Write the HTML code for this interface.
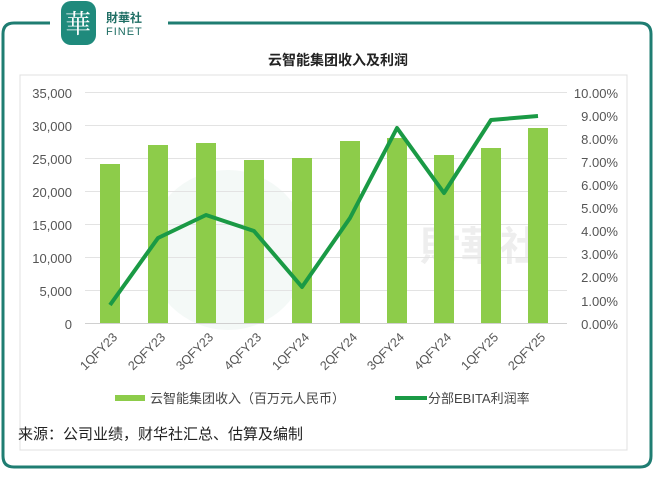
<!DOCTYPE html>
<html><head><meta charset="utf-8"><style>
body{margin:0;width:654px;height:490px;background:#fff;overflow:hidden;font-family:"Liberation Sans","Noto Sans CJK SC",sans-serif;}
</style></head><body>
<svg width="654" height="490" xmlns="http://www.w3.org/2000/svg" style="position:absolute;left:0;top:0">
<path d="M50 23 H14 Q3 23 3 34 V456 Q3 467 14 467 H640 Q651 467 651 456 V34 Q651 23 640 23 H168" fill="none" stroke="#1f7d72" stroke-width="3"/>
<rect x="61" y="1" width="35" height="44" rx="10" fill="#1f8a7c"/>
<text x="78" y="33" font-size="26" fill="#fff" text-anchor="middle" font-family="Noto Serif CJK SC,serif">華</text>
<text x="106" y="22" font-size="12" font-weight="bold" fill="#1f6e64">財華社</text>
<text x="106" y="35" font-size="11" fill="#1f6e64" letter-spacing="1">FINET</text>
<rect x="20" y="75" width="607" height="375" fill="none" stroke="#e0e0e0"/>
<text x="338" y="65" font-size="14" font-weight="bold" text-anchor="middle" fill="#222">云智能集团收入及利润</text>
<circle cx="228" cy="250" r="80" fill="#e9f3ef" opacity="0.5"/>
<text x="480" y="260" font-size="40" fill="#eeeeee" text-anchor="middle" font-weight="bold">財華社</text>
<g stroke="#e3e3e3" stroke-width="1">
<line x1="85" x2="567" y1="92.5" y2="92.5"/><line x1="85" x2="567" y1="125.5" y2="125.5"/><line x1="85" x2="567" y1="158.5" y2="158.5"/><line x1="85" x2="567" y1="191.5" y2="191.5"/><line x1="85" x2="567" y1="224.5" y2="224.5"/><line x1="85" x2="567" y1="257.5" y2="257.5"/><line x1="85" x2="567" y1="290.5" y2="290.5"/></g>
<line x1="85" x2="567" y1="323.5" y2="323.5" stroke="#d0d0d0"/>
<text font-size="13" fill="#555" text-anchor="end">
<tspan x="72" y="98">35,000</tspan><tspan x="72" y="131">30,000</tspan><tspan x="72" y="164">25,000</tspan><tspan x="72" y="197">20,000</tspan><tspan x="72" y="230">15,000</tspan><tspan x="72" y="263">10,000</tspan><tspan x="72" y="296">5,000</tspan><tspan x="72" y="329">0</tspan></text>
<text font-size="13" fill="#555" text-anchor="end">
<tspan x="618" y="98">10.00%</tspan><tspan x="618" y="121">9.00%</tspan><tspan x="618" y="144">8.00%</tspan><tspan x="618" y="167">7.00%</tspan><tspan x="618" y="190">6.00%</tspan><tspan x="618" y="213">5.00%</tspan><tspan x="618" y="236">4.00%</tspan><tspan x="618" y="259">3.00%</tspan><tspan x="618" y="282">2.00%</tspan><tspan x="618" y="306">1.00%</tspan><tspan x="618" y="329">0.00%</tspan></text>
<g fill="#8dcc4a">
<rect x="100" y="164" width="20" height="159"/><rect x="148" y="145" width="20" height="178"/><rect x="196" y="143" width="20" height="180"/><rect x="244" y="160" width="20" height="163"/><rect x="292" y="158" width="20" height="165"/><rect x="340" y="141" width="20" height="182"/><rect x="387" y="138" width="20" height="185"/><rect x="434" y="155" width="20" height="168"/><rect x="481" y="148" width="20" height="175"/><rect x="528" y="128" width="20" height="195"/></g>
<polyline fill="none" stroke="#1a9a45" stroke-width="4" stroke-linejoin="round" points="110,305 158,238 206,215 254,231 302,287 350,218 397,128 444,193 491,120 538,116"/>
<g font-size="12.5" fill="#555" text-anchor="end">
<text transform="translate(118,338) rotate(-45)">1QFY23</text>
<text transform="translate(166,338) rotate(-45)">2QFY23</text>
<text transform="translate(214,338) rotate(-45)">3QFY23</text>
<text transform="translate(262,338) rotate(-45)">4QFY23</text>
<text transform="translate(310,338) rotate(-45)">1QFY24</text>
<text transform="translate(358,338) rotate(-45)">2QFY24</text>
<text transform="translate(405,338) rotate(-45)">3QFY24</text>
<text transform="translate(452,338) rotate(-45)">4QFY24</text>
<text transform="translate(499,338) rotate(-45)">1QFY25</text>
<text transform="translate(546,338) rotate(-45)">2QFY25</text></g>
<rect x="115" y="395" width="30" height="6" fill="#8dcc4a"/>
<text x="150" y="403" font-size="13" fill="#444">云智能集团收入（百万元人民币）</text>
<rect x="395" y="396" width="32" height="4" fill="#1a9a45"/>
<text x="428" y="403" font-size="13" fill="#444">分部EBITA利润率</text>
<text x="18" y="439" font-size="15" fill="#222">来源：公司业绩，财华社汇总、估算及编制</text>
</svg>
</body></html>
